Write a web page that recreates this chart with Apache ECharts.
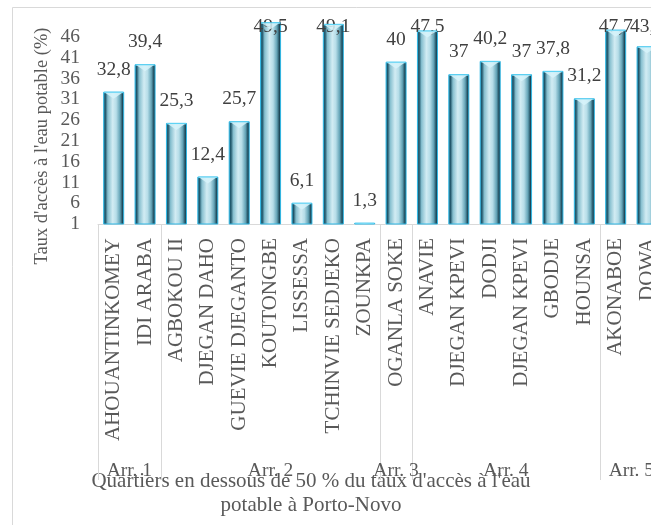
<!DOCTYPE html>
<html>
<head>
<meta charset="utf-8">
<script src="https://cdn.jsdelivr.net/npm/echarts@6/dist/echarts.min.js"></script>
<style>
  html, body { margin: 0; padding: 0; width: 651px; height: 525px; overflow: hidden; background: #ffffff; }
  #chart { position: absolute; left: 0; top: 0; width: 700px; height: 525px; }
</style>
</head>
<body>
<div id="chart"></div>
<script>
// Neighbourhoods below 50 % drinking-water access, Porto-Novo
const categories = [
  'AHOUANTINKOMEY', 'IDI ARABA',
  'AGBOKOU II', 'DJEGAN DAHO', 'GUEVIE DJEGANTO', 'KOUTONGBE', 'LISSESSA', 'TCHINVIE SEDJEKO', 'ZOUNKPA',
  'OGANLA SOKE',
  'ANAVIE', 'DJEGAN KPEVI', 'DODJI', 'DJEGAN KPEVI', 'GBODJE', 'HOUNSA',
  'AKONABOE', 'DOWA'
];
const values = [32.8, 39.4, 25.3, 12.4, 25.7, 49.5, 6.1, 49.1, 1.3, 40, 47.5, 37, 40.2, 37, 37.8, 31.2, 47.7, 43.7];

// Arrondissements and how many neighbourhoods each one holds
const groups = ['Arr. 1', 'Arr. 2', 'Arr. 3', 'Arr. 4', 'Arr. 5'];
const groupSizes = [2, 7, 1, 6, 2];

const yTicks = [1, 6, 11, 16, 21, 26, 31, 36, 41, 46];
const yMin = 1;
const yMax = 51;

const yTitle = "Taux d'accès à l'eau potable (%)";
const xTitle = "Quartiers en dessous de 50 % du taux d'accès à l'eau\npotable à Porto-Novo";

const FONT = "'Liberation Serif', 'Times New Roman', serif";
const TEXT = '#595959';
const LINE = '#d9d9d9';
const BAR_W = 21;

// group boundaries / centres in category units
const bounds = [0];
groupSizes.forEach(n => bounds.push(bounds[bounds.length - 1] + n));
const centres = groups.map((g, i) => (bounds[i] + bounds[i + 1]) / 2);
const total = bounds[bounds.length - 1];

const fmt = v => String(v).replace('.', ',');

const barFill = {
  type: 'linear', x: 0, y: 0, x2: 1, y2: 0,
  colorStops: [
    { offset: 0.00, color: '#2a7891' },
    { offset: 0.10, color: '#1f5468' },
    { offset: 0.22, color: '#86bfcf' },
    { offset: 0.45, color: '#d2ecf3' },
    { offset: 0.62, color: '#b6dde8' },
    { offset: 0.80, color: '#64a4b7' },
    { offset: 0.92, color: '#1e4a5b' },
    { offset: 1.00, color: '#0d2a36' }
  ]
};

const chart = echarts.init(document.getElementById('chart'), null, { renderer: 'canvas' });

chart.setOption({
  animation: false,
  backgroundColor: '#ffffff',
  textStyle: { fontFamily: FONT },
  grid: { left: 98, top: 16, width: 564.75, height: 208, containLabel: false, outerBoundsMode: 'none' },
  xAxis: [
    {
      type: 'category',
      data: categories,
      position: 'bottom',
      axisLine: { show: true, lineStyle: { color: LINE, width: 1 } },
      axisTick: { show: false },
      splitLine: { show: false },
      axisLabel: { interval: 0, rotate: 90, margin: 14, fontSize: 21, color: TEXT, fontFamily: FONT }
    },
    {
      // second level: arrondissement names and separators
      type: 'value',
      min: 0,
      max: total,
      position: 'bottom',
      axisLine: { show: false },
      splitLine: { show: false },
      axisTick: { show: true, customValues: bounds, length: 256, lineStyle: { color: LINE, width: 1 } },
      axisLabel: {
        customValues: centres,
        formatter: v => { const k = centres.indexOf(v); return k >= 0 ? groups[k] : ''; },
        margin: 237, fontSize: 19.5, color: TEXT, fontFamily: FONT
      }
    }
  ],
  yAxis: {
    type: 'value',
    min: yMin,
    max: yMax,
    axisLine: { show: false },
    axisTick: { show: false },
    splitLine: { show: false },
    axisLabel: { customValues: yTicks, margin: 18, fontSize: 19.5, color: TEXT, fontFamily: FONT }
  },
  series: [
    {
      type: 'bar',
      data: values,
      barWidth: BAR_W,
      itemStyle: { color: barFill, borderColor: '#2fb8e6', borderWidth: 1 },
      label: {
        show: true, position: 'top', distance: 12,
        formatter: p => fmt(p.value),
        fontSize: 19.5, color: '#404040', fontFamily: FONT
      },
      labelLayout: p => ({ dy: Math.max(0, 17 - p.labelRect.y) })
    },
    {
      // bevelled top of each bar
      type: 'custom',
      data: values.map((v, i) => [i, v]),
      encode: { x: 0, y: 1 },
      clip: true,
      silent: true,
      z: 3,
      renderItem: (params, api) => {
        const i = api.value(0), v = api.value(1);
        const top = api.coord([i, v]);
        const base = api.coord([i, yMin]);
        const h = Math.min(7, base[1] - top[1]);
        if (h <= 0) return;
        const x0 = top[0] - BAR_W / 2 + 1, x1 = top[0] + BAR_W / 2 - 1;
        return {
          type: 'group',
          children: [
            { type: 'rect', shape: { x: x0, y: top[1], width: x1 - x0, height: Math.min(1.5, h) }, style: { fill: '#5fd3f4' } },
            { type: 'polygon', shape: { points: [[x0 + 1, top[1] + 1], [x1 - 1, top[1] + 1], [top[0], top[1] + h]] }, style: { fill: 'rgba(215,243,250,0.85)' } }
          ]
        };
      }
    }
  ],
  graphic: [
    { type: 'rect', silent: true, z: -10, shape: { x: 12.5, y: 7.5, width: 800, height: 700 }, style: { fill: 'none', stroke: LINE, lineWidth: 1 } },
    { type: 'text', silent: true, x: 42, y: 146, rotation: Math.PI / 2,
      style: { text: yTitle, fontSize: 18.5, fontFamily: FONT, fill: TEXT, align: 'center', verticalAlign: 'middle' } },
    { type: 'text', silent: true, x: 311, y: 469,
      style: { text: xTitle, fontSize: 21, lineHeight: 24, fontFamily: FONT, fill: TEXT, align: 'center', verticalAlign: 'top' } }
  ]
});
</script>
</body>
</html>
